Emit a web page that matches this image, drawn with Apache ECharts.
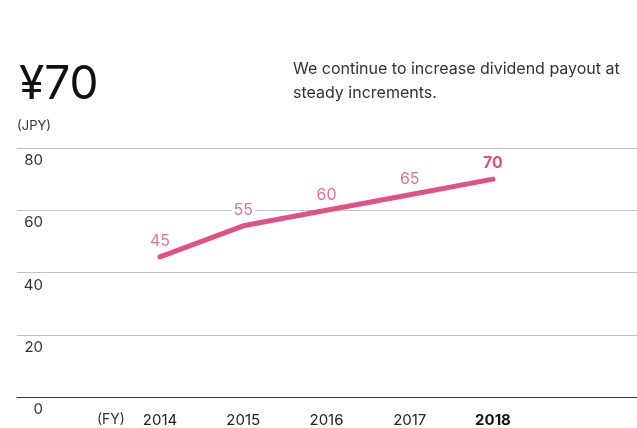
<!DOCTYPE html>
<html>
<head>
<meta charset="utf-8">
<script src="https://cdn.jsdelivr.net/npm/echarts@6/dist/echarts.min.js"></script>
<style>
  html, body { margin: 0; padding: 0; background: #fff; }
  #chart { width: 637px; height: 428px; }
</style>
</head>
<body>
<div id="chart"></div>
<script>
// Annual dividend per share (JPY) by fiscal year
const years = [2014, 2015, 2016, 2017, 2018];
const dividends = [45, 55, 60, 65, 70];
const yTicks = [0, 20, 40, 60, 80];

const headline = '¥70';
const note = 'We continue to increase dividend payout at\nsteady increments.';
const unitLabel = '(JPY)';
const fyLabel = '(FY)';

const FONT = 'Inter, "Noto Sans", sans-serif';
const PINK = '#df5288';
const LABEL_PINK = '#e3729c';
const latest = years[years.length - 1];

const chart = echarts.init(document.getElementById('chart'), null, { renderer: 'canvas' });

chart.setOption({
  animation: false,
  textStyle: { fontFamily: FONT },
  graphic: [
    { type: 'text', left: 19, top: 62, style: { text: headline, font: '400 46px ' + FONT, fill: '#111' } },
    { type: 'text', left: 293, top: 57, style: { text: note, font: '400 16px ' + FONT, fill: '#333', lineHeight: 24 } },
    { type: 'text', left: 17, top: 120, style: { text: unitLabel, font: '400 13px ' + FONT, fill: '#333' } },
    { type: 'text', left: 97, top: 413, style: { text: fyLabel, font: '400 14px ' + FONT, fill: '#333' } }
  ],
  grid: { left: 17, right: 0, top: 148, bottom: 31, containLabel: false },
  xAxis: {
    type: 'value',
    min: 2012.282,
    max: 2019.73,
    splitLine: { show: false },
    axisTick: { show: false },
    axisLine: { show: true, lineStyle: { color: '#333', width: 1 } },
    axisLabel: {
      customValues: years,
      margin: 16,
      fontSize: 15,
      color: '#222',
      fontFamily: FONT,
      formatter: v => (v === latest ? '{b|' + v + '}' : String(v)),
      rich: { b: { fontWeight: 'bold', fontSize: 15, color: '#111', fontFamily: FONT } }
    }
  },
  yAxis: {
    type: 'value',
    min: 0,
    max: 80,
    interval: 20,
    axisLine: { show: false },
    axisTick: { show: false },
    splitLine: { show: true, lineStyle: { color: '#c4c4c4', width: 1 } },
    axisLabel: {
      inside: true,
      margin: 26,
      align: 'right',
      verticalAlign: 'top',
      padding: [5, 0, 0, 0],
      fontSize: 15,
      color: '#333',
      fontFamily: FONT,
      customValues: yTicks
    }
  },
  series: [{
    type: 'line',
    data: years.map((y, i) => [y, dividends[i]]),
    showSymbol: true,
    symbol: 'circle',
    symbolSize: 1,
    itemStyle: { color: PINK },
    lineStyle: { color: PINK, width: 5, cap: 'round', join: 'round' },
    label: {
      show: true,
      position: 'top',
      distance: 7,
      fontSize: 16,
      fontFamily: FONT,
      color: LABEL_PINK,
      backgroundColor: '#fff',
      padding: [0, 2],
      formatter: p => (p.value[0] === latest ? '{b|' + p.value[1] + '}' : String(p.value[1])),
      rich: { b: { fontWeight: 'bold', fontSize: 16, color: PINK, fontFamily: FONT } }
    },
    z: 3
  }]
});
</script>
</body>
</html>
